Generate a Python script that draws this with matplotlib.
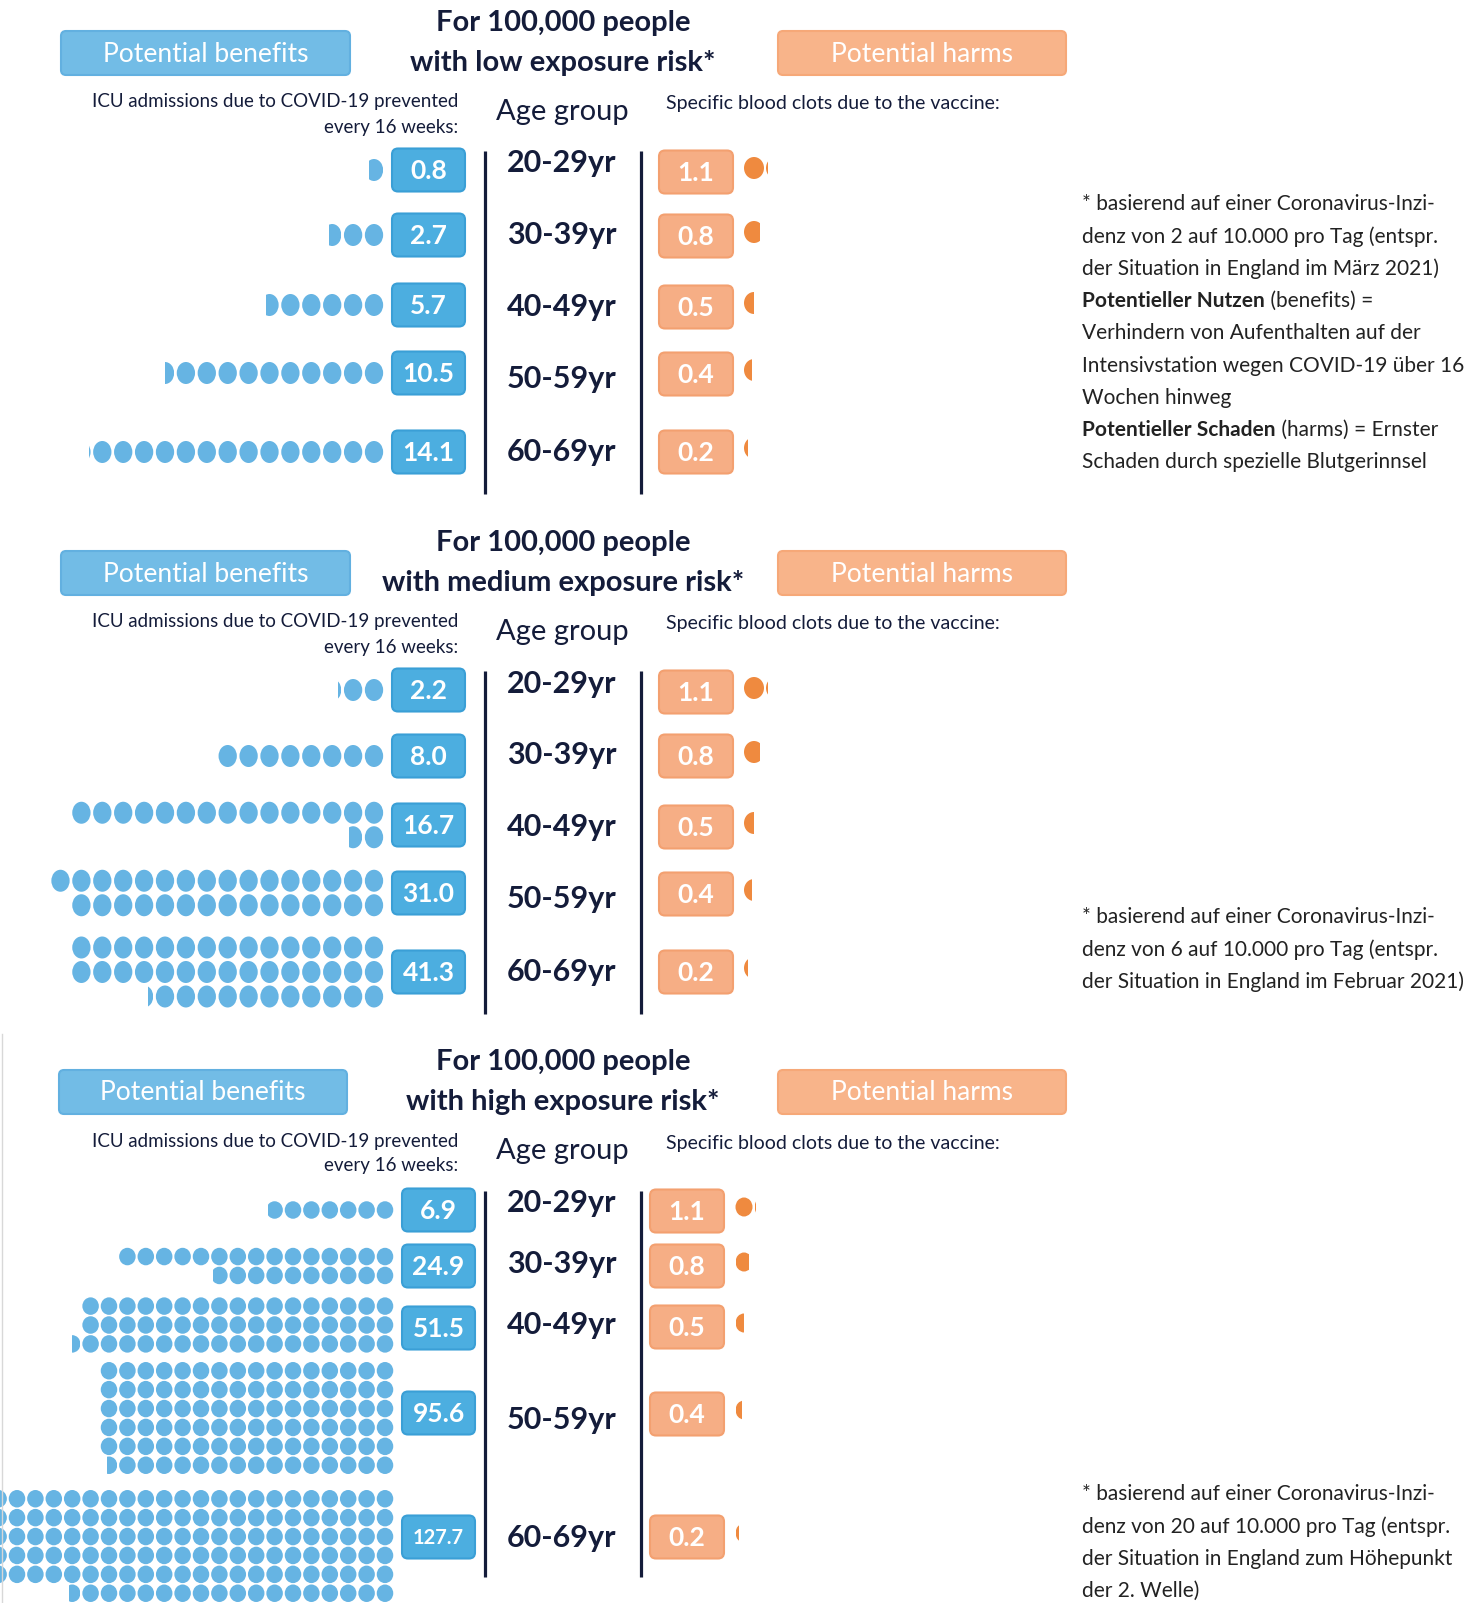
import math
import matplotlib.pyplot as plt
from matplotlib.patches import Ellipse, Rectangle, FancyBboxPatch

age_groups = ['20-29yr', '30-39yr', '40-49yr', '50-59yr', '60-69yr']
benefits_low = [0.8, 2.7, 5.7, 10.5, 14.1]
benefits_medium = [2.2, 8.0, 16.7, 31.0, 41.3]
benefits_high = [6.9, 24.9, 51.5, 95.6, 127.7]
harms = [1.1, 0.8, 0.5, 0.4, 0.2]

notes_low = [
    [('* basierend auf einer Coronavirus-Inzi-', False)],
    [('denz von 2 auf 10.000 pro Tag (entspr.', False)],
    [('der Situation in England im März 2021)', False)],
    [('Potentieller Nutzen', True), (' (benefits) =', False)],
    [('Verhindern von Aufenthalten auf der', False)],
    [('Intensivstation wegen COVID-19 über 16', False)],
    [('Wochen hinweg', False)],
    [('Potentieller Schaden', True), (' (harms) = Ernster', False)],
    [('Schaden durch spezielle Blutgerinnsel', False)],
]
notes_medium = [
    [('* basierend auf einer Coronavirus-Inzi-', False)],
    [('denz von 6 auf 10.000 pro Tag (entspr.', False)],
    [('der Situation in England im Februar 2021)', False)],
]
notes_high = [
    [('* basierend auf einer Coronavirus-Inzi-', False)],
    [('denz von 20 auf 10.000 pro Tag (entspr.', False)],
    [('der Situation in England zum Höhepunkt', False)],
    [('der 2. Welle)', False)],
]

NAVY = '#141c3a'
BLUE_HEAD = '#72bce6'
BLUE_BOX = '#4caee0'
BLUE_DOT = '#66b4e3'
ORANGE_HEAD = '#f8b48a'
ORANGE_BOX = '#f6ae85'
ORANGE_DOT = '#ef8a3f'
FONT = 'Lato'

fig = plt.figure(figsize=(14.82, 16.03), dpi=100)
ax = fig.add_axes([0, 0, 1, 1])
ax.set_xlim(0, 1482)
ax.set_ylim(1603, 0)
ax.axis('off')


def rbox(x0, x1, yc, h, fc, ec, r=6):
    ax.add_patch(FancyBboxPatch((x0, yc - h / 2), x1 - x0, h,
                                boxstyle=f'round,pad=0,rounding_size={r}',
                                fc=fc, ec=ec, lw=1.5))


def dots(value, x0, yc, cap, step, w, h, gap, color, sign):
    # whole dots fill rows of `cap`; the fractional dot trails the last row
    full = math.floor(value + 1e-9)
    frac = value - full
    nrows = max(1, math.ceil(full / cap))
    spots = [divmod(k, cap) for k in range(full)]
    if frac > 1e-6:
        spots.append((nrows - 1, full - (nrows - 1) * cap))
    for n, (row, j) in enumerate(spots):
        x = x0 + sign * j * step
        y = yc + (row - (nrows - 1) / 2) * gap
        e = Ellipse((x, y), w, h, color=color, lw=0)
        ax.add_patch(e)
        if n == full:
            cw = frac * w
            left = x + w / 2 - cw if sign < 0 else x - w / 2
            e.set_clip_path(Rectangle((left, y - h), cw, 2 * h, transform=ax.transData))


panels = [
    dict(risk='low', ben=benefits_low, top=0, ben_x=(61, 350),
         age_y=[163, 235, 307, 379, 452], bbox_y=[170, 235, 305, 373, 452],
         obox_y=[172, 236, 307, 374, 452], bbox_x=(392, 465), obox_x=(659, 733),
         line_y=(151, 494), caps=[15] * 5, dx=374, step=20.9, dw=18.3, dh=22, gap=24.5,
         ody=[0] * 5, odx=754, odw=20, odh=22, notes=notes_low, note_y=204),
    dict(risk='medium', ben=benefits_medium, top=520, ben_x=(61, 350),
         age_y=[684, 755, 827, 899, 972], bbox_y=[690, 756, 825, 893, 972],
         obox_y=[692, 756, 827, 894, 972], bbox_x=(392, 465), obox_x=(659, 733),
         line_y=(671, 1014), caps=[15, 15, 15, 16, 15], dx=374, step=20.9, dw=18.3, dh=22,
         gap=24.5, ody=[0] * 5, odx=754, odw=20, odh=22, notes=notes_medium, note_y=917),
    dict(risk='high', ben=benefits_high, top=1039, ben_x=(59, 347),
         age_y=[1203, 1264, 1325, 1420, 1538], bbox_y=[1210, 1266, 1328, 1413, 1537],
         obox_y=[1211, 1266, 1327, 1414, 1537], bbox_x=(402, 475), obox_x=(650, 724),
         line_y=(1191, 1577), caps=[7, 15, 17, 16, 22], dx=385, step=18.4, dw=16.5, dh=17.5,
         gap=18.9, ody=[0, 0, -3, 5, 9], odx=744, odw=17, odh=19, notes=notes_high,
         note_y=1494),
]

renderer = fig.canvas.get_renderer()

for p in panels:
    t = p['top']
    # title and header boxes
    ax.text(563, t + 23, 'For 100,000 people', ha='center', va='center',
            fontsize=21, fontweight='bold', color=NAVY, family=FONT)
    ax.text(563, t + 63, f"with {p['risk']} exposure risk*", ha='center', va='center',
            fontsize=21, fontweight='bold', color=NAVY, family=FONT)
    rbox(p['ben_x'][0], p['ben_x'][1], t + 53, 44, BLUE_HEAD, '#62b0e0', r=5)
    ax.text(sum(p['ben_x']) / 2, t + 54, 'Potential benefits', ha='center', va='center',
            fontsize=19, color='white', family=FONT)
    rbox(778, 1066, t + 53, 44, ORANGE_HEAD, '#f6a878', r=5)
    ax.text(922, t + 54, 'Potential harms', ha='center', va='center',
            fontsize=19, color='white', family=FONT)

    # column headers
    ax.text(458, t + 102, 'ICU admissions due to COVID-19 prevented', ha='right', va='center',
            fontsize=13.5, color=NAVY, family=FONT)
    ax.text(458, t + 127, 'every 16 weeks:', ha='right', va='center',
            fontsize=13.5, color=NAVY, family=FONT)
    ax.text(562, t + 112, 'Age group', ha='center', va='center',
            fontsize=21, color=NAVY, family=FONT)
    ax.text(666, t + 104, 'Specific blood clots due to the vaccine:', ha='left', va='center',
            fontsize=14, color=NAVY, family=FONT)

    # divider lines
    ax.plot([485, 485], p['line_y'], color=NAVY, lw=2.3, solid_capstyle='butt')
    ax.plot([641, 641], p['line_y'], color=NAVY, lw=2.3, solid_capstyle='butt')

    for i, age in enumerate(age_groups):
        ax.text(562, p['age_y'][i], age, ha='center', va='center',
                fontsize=22, fontweight='bold', color=NAVY, family=FONT)
        # benefits
        v = p['ben'][i]
        rbox(p['bbox_x'][0], p['bbox_x'][1], p['bbox_y'][i], 43, BLUE_BOX, '#3a9fd6')
        ax.text(sum(p['bbox_x']) / 2, p['bbox_y'][i] + 1, f'{v:.1f}', ha='center', va='center',
                fontsize=19 if v < 100 else 14.5, fontweight='bold', color='white', family=FONT)
        dots(v, p['dx'], p['bbox_y'][i] + p['ody'][i], p['caps'][i], p['step'], p['dw'],
             p['dh'], p['gap'], BLUE_DOT, -1)
        # harms
        h = harms[i]
        rbox(p['obox_x'][0], p['obox_x'][1], p['obox_y'][i], 43, ORANGE_BOX, '#f3a070')
        ax.text(sum(p['obox_x']) / 2, p['obox_y'][i] + 1, f'{h:.1f}', ha='center', va='center',
                fontsize=19, fontweight='bold', color='white', family=FONT)
        dots(h, p['odx'], p['obox_y'][i] - 4, 10, p['odw'] + 2, p['odw'], p['odh'], 20,
             ORANGE_DOT, 1)

    # footnotes on the right
    for n, line in enumerate(p['notes']):
        x = 1082
        y = p['note_y'] + n * 32.3
        for txt, bold in line:
            tt = ax.text(x, y, txt, ha='left', va='center', fontsize=15, color='#222222',
                         fontweight='bold' if bold else 'normal', family=FONT)
            x += tt.get_window_extent(renderer).width

# thin frame line at the left of the last panel
ax.plot([2, 2], [1034, 1603], color='#d8d8d8', lw=1)

fig.savefig('out.png', dpi=100)
